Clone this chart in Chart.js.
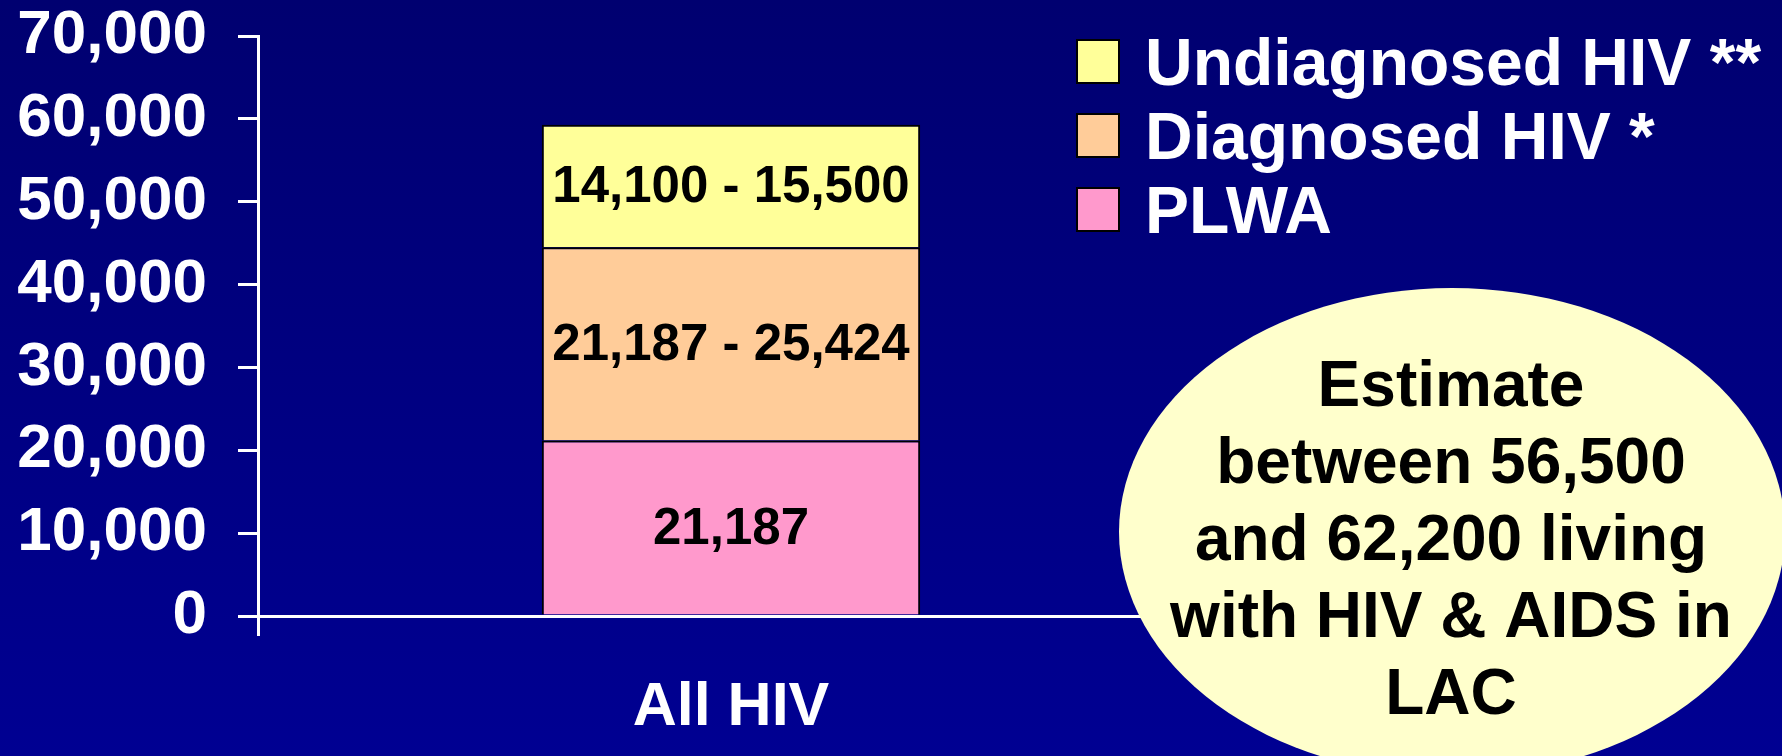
<!DOCTYPE html>
<html>
<head>
<meta charset="utf-8">
<script src="https://cdn.jsdelivr.net/npm/chart.js@4.4.1/dist/chart.umd.min.js"></script>
<style>
  html, body { margin: 0; padding: 0; background: #000080; overflow: hidden; }
  canvas { display: block; }
</style>
</head>
<body>
<canvas id="hiv-chart" width="1782" height="756"></canvas>
<script>
const categories = ["All HIV"];
const seriesNames = ["PLWA", "Diagnosed HIV *", "Undiagnosed HIV **"];
const plwaValues = [21187];
const diagnosedValues = [23306];
const undiagnosedValues = [14800];
const segmentLabels = ["21,187", "21,187 - 25,424", "14,100 - 15,500"];
const seriesColors = ["#FF99CC", "#FFCC99", "#FFFF99"];
const yMax = 70000;
const yStep = 10000;
const calloutLines = ["Estimate", "between 56,500", "and 62,200 living", "with HIV & AIDS in", "LAC"];

const FONT = '"Liberation Sans", Arial, sans-serif';

// slide background, dark navy getting a bit lighter to the bottom
const backgroundPlugin = {
  id: "slideBackground",
  beforeDraw(chart) {
    const { ctx, width, height } = chart;
    const g = ctx.createLinearGradient(0, 0, 0, height);
    g.addColorStop(0, "#000070");
    g.addColorStop(1, "#000092");
    ctx.save();
    ctx.fillStyle = g;
    ctx.fillRect(0, 0, width, height);
    ctx.restore();
  }
};

// text inside each stacked segment
const segmentLabelPlugin = {
  id: "segmentLabels",
  afterDatasetsDraw(chart) {
    const ctx = chart.ctx;
    ctx.save();
    ctx.fillStyle = "#000";
    ctx.font = `bold 51px ${FONT}`;
    ctx.textAlign = "center";
    ctx.textBaseline = "middle";
    chart.data.datasets.forEach((ds, i) => {
      const bar = chart.getDatasetMeta(i).data[0];
      if (!bar) return;
      const y = (bar.y + bar.base) / 2 + 2;
      ctx.fillText(segmentLabels[i], bar.x, y);
    });
    ctx.restore();
  }
};

// legend at the top right, top entry = top segment
const legendPlugin = {
  id: "sideLegend",
  afterDraw(chart) {
    const ctx = chart.ctx;
    const items = chart.data.datasets.slice().reverse();
    ctx.save();
    ctx.font = `bold 66px ${FONT}`;
    ctx.textAlign = "left";
    ctx.textBaseline = "alphabetic";
    items.forEach((ds, i) => {
      const top = 40 + i * 74;
      ctx.fillStyle = ds.backgroundColor;
      ctx.fillRect(1077, top, 42, 43);
      ctx.strokeStyle = "#000";
      ctx.lineWidth = 2;
      ctx.strokeRect(1077, top, 42, 43);
      ctx.fillStyle = "#fff";
      ctx.fillText(ds.label, 1145, top + 45);
    });
    ctx.restore();
  }
};

// yellow callout ellipse over the right end of the axis
const calloutPlugin = {
  id: "callout",
  afterDraw(chart) {
    const ctx = chart.ctx;
    ctx.save();
    ctx.beginPath();
    ctx.ellipse(1452, 532, 333, 244, 0, 0, Math.PI * 2);
    ctx.fillStyle = "#FFFFCC";
    ctx.fill();
    ctx.fillStyle = "#000";
    ctx.font = `bold 64px ${FONT}`;
    ctx.textAlign = "center";
    ctx.textBaseline = "alphabetic";
    calloutLines.forEach((line, i) => {
      ctx.fillText(line, 1451, 406 + i * 77);
    });
    ctx.restore();
  }
};

const datasets = [plwaValues, diagnosedValues, undiagnosedValues].map((values, i) => ({
  label: seriesNames[i],
  data: values,
  backgroundColor: seriesColors[i],
  borderColor: "#000",
  borderWidth: 2,
  borderSkipped: "start",
  categoryPercentage: 1,
  barPercentage: 0.4
}));

new Chart(document.getElementById("hiv-chart"), {
  type: "bar",
  data: { labels: categories, datasets: datasets },
  options: {
    responsive: false,
    animation: false,
    devicePixelRatio: 1,
    layout: { padding: { left: 17, right: 578, top: 36, bottom: 0 } },
    plugins: {
      legend: { display: false },
      tooltip: { enabled: false }
    },
    scales: {
      x: {
        stacked: true,
        grid: { display: true, drawOnChartArea: false, color: "#fff", lineWidth: 3, tickLength: 20, offset: true },
        border: { color: "#fff", width: 3 },
        ticks: { color: "#fff", font: { family: FONT, size: 61, weight: "bold" }, padding: 36 },
        afterFit(scale) {
          scale.height = 140;
          scale.paddingLeft = 0;
          scale.paddingRight = 0;
        }
      },
      y: {
        stacked: true,
        min: 0,
        max: yMax,
        grid: { display: true, drawOnChartArea: false, color: "#fff", lineWidth: 3, tickLength: 20 },
        border: { color: "#fff", width: 3 },
        ticks: {
          stepSize: yStep,
          color: "#fff",
          font: { family: FONT, size: 62, weight: "bold" },
          padding: 31,
          callback: v => v.toLocaleString("en-US")
        },
        afterFit(scale) {
          scale.width = 241;
          scale.paddingTop = 0;
          scale.paddingBottom = 0;
        }
      }
    }
  },
  plugins: [backgroundPlugin, segmentLabelPlugin, legendPlugin, calloutPlugin]
});
</script>
</body>
</html>
